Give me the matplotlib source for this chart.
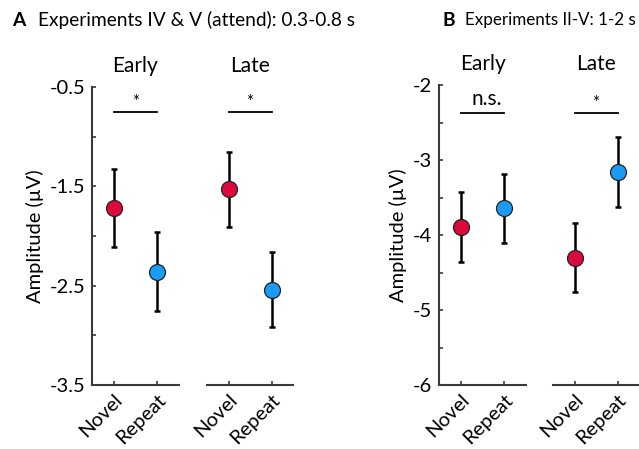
import matplotlib
matplotlib.use("Agg")
import matplotlib.pyplot as plt

plt.rcParams['font.family'] = ['Lato', 'DejaVu Sans']

conditions = ["Novel", "Repeat"]
groups = ["Early", "Late"]

# Panel A values
a_early_mean = [-1.72, -2.36]
a_early_err = [0.39, 0.40]
a_late_mean = [-1.53, -2.54]
a_late_err = [0.38, 0.38]
a_sig = ["*", "*"]
a_yticks = [-0.5, -1.5, -2.5, -3.5]

# Panel B values
b_early_mean = [-3.89, -3.64]
b_early_err = [0.47, 0.46]
b_late_mean = [-4.30, -3.16]
b_late_err = [0.46, 0.47]
b_sig = ["n.s.", "*"]
b_yticks = [-2, -3, -4, -5, -6]

colors = ["#DC0A3C", "#1A9BF5"]
spine_col = "#3a3a3a"

W, H = 639, 449
fig = plt.figure(figsize=(W / 100, H / 100), dpi=100)


def px_axes(x0, x1, ytop, ybot):
    return fig.add_axes([x0 / W, 1 - ybot / H, (x1 - x0) / W, (ybot - ytop) / H])


def draw_group(ax, means, errs, ylim, yticks, minor_step, sig, sig_y, title, show_y):
    xs = [1, 2]
    for x, m, e, c in zip(xs, means, errs, colors):
        ax.errorbar(x, m, yerr=e, fmt='none', ecolor='black', elinewidth=1.8,
                    capsize=2, capthick=1.8, zorder=2)
        ax.plot(x, m, 'o', ms=11.5, mfc=c, mec='#222222', mew=0.9, zorder=3)
    ax.set_xlim(0.5, 2.5)
    ax.set_ylim(*ylim)
    ax.set_xticks(xs)
    ax.set_xticklabels(conditions, rotation=45, ha='right', va='top',
                       rotation_mode='anchor', fontsize=14.5)
    ax.tick_params(axis='x', direction='in', length=3, width=1.2, color=spine_col, pad=4)
    for s in ['top', 'right']:
        ax.spines[s].set_visible(False)
    ax.spines['bottom'].set_color(spine_col)
    ax.spines['bottom'].set_linewidth(1.5)
    if show_y:
        ax.spines['left'].set_color(spine_col)
        ax.spines['left'].set_linewidth(1.5)
        ticks = []
        v = ylim[1]
        while v >= ylim[0] - 1e-9:
            ticks.append(round(v, 3))
            v -= minor_step
        ax.set_yticks(ticks)
        ax.set_yticklabels([("%g" % t) if t in yticks else "" for t in ticks], fontsize=14.5)
        ax.tick_params(axis='y', direction='in', length=3, width=1.2, color=spine_col, pad=5)
        ax.set_ylabel("Amplitude (\u00b5V)", fontsize=14.5, labelpad=4)
    else:
        ax.spines['left'].set_visible(False)
        ax.set_yticks([])
    ax.plot([1, 2], [sig_y, sig_y], color='black', lw=1.3, clip_on=False)
    if sig == "*":
        ax.annotate(sig, xy=(1.5, sig_y), xytext=(0, 1.5), textcoords='offset points',
                    ha='center', va='bottom', fontsize=12)
    else:
        ax.annotate(sig, xy=(1.6, sig_y), xytext=(0, 3), textcoords='offset points',
                    ha='center', va='bottom', fontsize=15)
    ax.set_title(title, fontsize=15, pad=11)
    ax.patch.set_visible(False)


axA1 = px_axes(92, 179, 87, 385)
axA2 = px_axes(207, 293, 87, 385)
axB1 = px_axes(439, 526, 85, 385)
axB2 = px_axes(553, 639, 85, 385)

draw_group(axA1, a_early_mean, a_early_err, (-3.5, -0.5), a_yticks, 0.5, a_sig[0], -0.75, groups[0], True)
draw_group(axA2, a_late_mean, a_late_err, (-3.5, -0.5), a_yticks, 0.5, a_sig[1], -0.75, groups[1], False)
draw_group(axB1, b_early_mean, b_early_err, (-6, -2), b_yticks, 0.5, b_sig[0], -2.37, groups[0], True)
draw_group(axB2, b_late_mean, b_late_err, (-6, -2), b_yticks, 0.5, b_sig[1], -2.37, groups[1], False)

fig.text(12 / W, 1 - 20 / H, "A", fontsize=13.8, fontweight='bold', va='center', ha='left')
tA = fig.text(38 / W, 1 - 20 / H, "Experiments IV & V (attend): 0.3-0.8 s", fontsize=13.8, va='center', ha='left')
fig.text(443 / W, 1 - 20 / H, "B", fontsize=13.8, fontweight='bold', va='center', ha='left')
tB = fig.text(465 / W, 1 - 20 / H, "Experiments II-V: 1-2 s", fontsize=13.8, va='center', ha='left')

# fit title widths to the reference layout
renderer = fig.canvas.get_renderer()
for t, target in [(tA, 317.0), (tB, 171.0)]:
    w = t.get_window_extent(renderer).width
    if w > 0:
        t.set_fontsize(min(13.8, t.get_fontsize() * target / w))

fig.savefig("out.png", dpi=100)
